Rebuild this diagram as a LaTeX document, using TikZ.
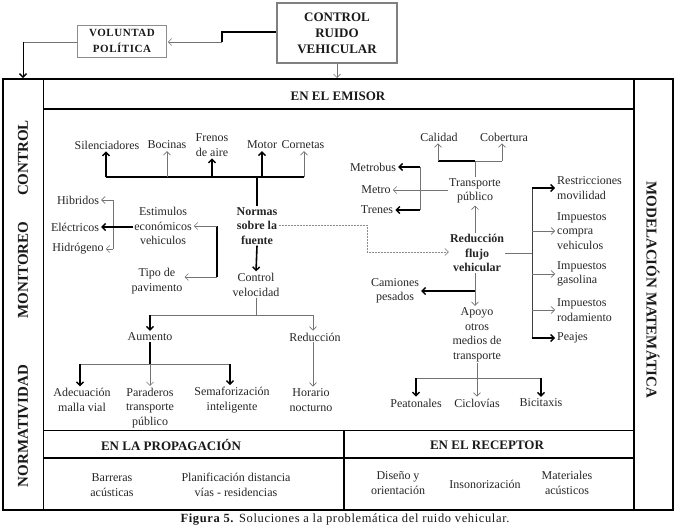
\documentclass[tikz,border=0pt]{standalone}
\usepackage{fontspec}
\setmainfont{Liberation Serif}
\usetikzlibrary{arrows.meta}
\tikzset{
 txt/.style={font=\fontsize{12}{14.5}\selectfont, align=center, inner sep=1pt, text=black!85},
 btxt/.style={txt, font=\fontsize{12}{14.5}\selectfont\bfseries},
 lft/.style={txt, align=left, anchor=west},
 head/.style={font=\fontsize{13}{15}\selectfont\bfseries, text=black!90},
 side/.style={font=\fontsize{15}{17}\selectfont\bfseries, text=black!90},
 thn/.style={draw=black!55, line width=0.6pt},
 thk/.style={draw=black, line width=1.6pt},
 tarr/.style={thn, -{Straight Barb[length=3.5pt,width=7pt,line width=0.6pt]}, shorten >=1pt},
 karr/.style={thk, -{Straight Barb[length=3.5pt,width=7pt,line width=1.4pt]}, shorten >=1pt},
 dotl/.style={draw=black!45, line width=0.6pt, dash pattern=on 2pt off 1pt},
}
\begin{document}
\begin{tikzpicture}[x=1pt,y=-1pt]
\useasboundingbox (0,0) rectangle (676,527);
% top boxes
\node[draw=black!50, line width=1.5pt, minimum width=120pt, minimum height=60pt, align=center,
      font=\fontsize{13}{16}\selectfont\bfseries, text=black!90] (ctrl) at (337,33) {CONTROL\\RUIDO\\VEHICULAR};
\node[draw=black!45, line width=0.6pt, minimum width=89pt, minimum height=32pt, align=center,
      font=\fontsize{11}{16}\selectfont\bfseries\addfontfeature{LetterSpace=5}, text=black!90] (vol) at (122,41) {VOLUNTAD\\POLÍTICA};
\coordinate (k1) at (222,32);
\coordinate (k2) at (222,42);
\coordinate (k3) at (23,42);
\coordinate (k4) at (23,79);
\coordinate (ftop) at (0,79);
\draw[thk, line width=1.2pt] (ctrl.west |- k1) -- (k1) -- (k2);
\draw[tarr] (k2) -- (vol.east |- k2);
\draw[thn] (vol.west |- k3) -- (k3);
\draw[karr, line width=1pt] (k3) -- (k4);
\draw[tarr] (ctrl.south) -- (ctrl.south |- ftop);
% frame
\draw[line width=2pt] (3,79) rectangle (673,510);
\draw[line width=1pt] (43,79) -- (43,510);
\draw[line width=1.5pt] (634,79) -- (634,510);
\draw[line width=1.8pt] (43,109) -- (634,109);
\draw[line width=0.8pt] (43,430) -- (634,430);
\draw[line width=1.6pt] (43,458) -- (634,458);
\draw[line width=1.6pt] (344,430) -- (344,510);
% side labels
\node[side, rotate=90] (lc) at (23,158) {CONTROL};
\node[side, rotate=90] (lm) at (23,270) {MONITOREO};
\node[side, rotate=90] (ln) at (23,426) {NORMATIVIDAD};
\node[side, rotate=-90] (rm) at (653,290) {MODELACIÓN MATEMÁTICA};
% headers
\node[head] (hem) at (338,96) {EN EL EMISOR};
\node[head] (hpr) at (171,445) {EN LA PROPAGACIÓN};
\node[head] (hre) at (487,445) {EN EL RECEPTOR};
% emisor: top row
\node[txt] (silen) at (107,145) {Silenciadores};
\node[txt] (bocin) at (167,145) {Bocinas};
\node[txt] (frenos) at (212,145) {Frenos\\de aire};
\node[txt] (motor) at (262,145) {Motor};
\node[txt] (corne) at (303,145) {Cornetas};
\coordinate (busL) at (106,177);
\coordinate (busR) at (304,177);
\draw[thk] (busL) -- (busR);
\draw[karr] (busL) -- (busL |- silen.south);
\draw[tarr] (bocin.south |- busL) -- (bocin.south);
\draw[karr] (frenos.south |- busL) -- (frenos.south);
\draw[karr] (motor.south |- busL) -- (motor.south);
\draw[tarr] (busR) -- (busR |- corne.south);
% normas
\node[btxt] (normas) at (257,226) {Normas\\sobre la\\fuente};
\draw[thk] (normas.north) -- (normas.north |- busL);
\node[txt] (cv) at (256,285) {Control\\velocidad};
\draw[karr] (normas.south) -- (cv.north);
\node[txt] (aum) at (150,337) {Aumento};
\node[txt] (red) at (315,337) {Reducción};
\coordinate (cvb) at (256,315);
\coordinate (brL) at (150,315);
\coordinate (brR) at (313,315);
\draw[thn] (cv.south) -- (cvb);
\draw[thn] (brL) -- (brR);
\draw[karr] (brL) -- (aum.north);
\draw[tarr] (brR) -- (brR |- red.north);
\node[txt] (adec) at (82,400) {Adecuación\\malla vial};
\node[txt] (parad) at (150,408) {Paraderos\\transporte\\público};
\node[txt] (semaf) at (232,400) {Semaforización\\inteligente};
\node[txt] (horar) at (311,400) {Horario\\nocturno};
\coordinate (ab) at (150,364);
\coordinate (abL) at (80,364);
\coordinate (abR) at (230,364);
\draw[thk] (aum.south) -- (ab);
\draw[thn] (abL) -- (abR);
\draw[karr] (abL) -- (abL |- adec.north);
\draw[tarr] (ab) -- (parad.north);
\draw[karr] (abR) -- (abR |- semaf.north);
\draw[tarr] (red.south -| brR) -- (brR |- horar.north);
% estimulos
\node[txt] (estim) at (163,226) {Estimulos\\económicos\\vehiculos};
\node[txt] (hibr) at (78,200) {Hibridos};
\node[txt] (elec) at (75,227) {Eléctricos};
\node[txt] (hidr) at (78,249) {Hidrógeno};
\coordinate (eb) at (113,227);
\coordinate (ebT) at (113,200);
\coordinate (ebB) at (113,249);
\draw[thn] (ebT) -- (ebB);
\draw[thk] (estim.west |- eb) -- (eb);
\draw[tarr] (ebT) -- (hibr.east |- ebT);
\draw[karr, line width=1.2pt] (eb) -- (elec.east |- eb);
\draw[tarr] (ebB) -- (hidr.east |- ebB);
\node[txt] (tipo) at (157,281) {Tipo de\\pavimento};
\coordinate (tbT) at (217,226);
\coordinate (tbB) at (217,277);
\draw[thk, line width=1.2pt] (tbT) -- (tbB);
\draw[tarr] (tbT) -- (estim.east |- tbT);
\draw[tarr] (tbB) -- (tipo.east |- tbB);
% right side
\node[btxt] (redf) at (477,253) {Reducción\\flujo\\vehicular};
\coordinate (d1) at (367,225);
\coordinate (d2) at (367,252);
\draw[dotl, -{Straight Barb[length=3.5pt,width=7pt,line width=0.6pt]}] (normas.east |- d1) -- (d1) -- (d2) -- (redf.west |- d2);
\node[txt] (transp) at (475,191) {Transporte\\público};
\draw[tarr] (redf.north -| transp) -- (transp.south);
\node[txt] (calid) at (439,137) {Calidad};
\node[txt] (cober) at (504,137) {Cobertura};
\coordinate (cb) at (475,161);
\coordinate (cbL) at (438,161);
\coordinate (cbR) at (502,161);
\draw[thn] (transp.north) -- (cb);
\draw[thk] (cbL) -- (cb);
\draw[thn] (cb) -- (cbR);
\draw[tarr] (cbL) -- (cbL |- calid.south);
\draw[tarr] (cbR) -- (cbR |- cober.south);
\node[txt] (metrob) at (373,167) {Metrobus};
\node[txt] (metro) at (376,190) {Metro};
\node[txt] (trenes) at (377,210) {Trenes};
\coordinate (mbT) at (420,167);
\coordinate (mbB) at (420,210);
\draw[thn] (mbT) -- (mbB);
\draw[karr] (mbT) -- (metrob.east |- mbT);
\draw[karr] (mbB) -- (trenes.east |- mbB);
\draw[tarr] (transp.west |- metro) -- (metro.east);
\node[txt] (camion) at (395,291) {Camiones\\pesados};
\node[txt] (apoyo) at (477,335) {Apoyo\\otros\\medios de\\transporte};
\coordinate (cm) at (475,291);
\draw[thn] (redf.south -| cm) -- (cm);
\draw[tarr] (cm) -- (cm |- apoyo.north);
\draw[karr] (cm) -- (camion.east |- cm);
% right branches
\node[lft] (restr) at (556,188) {Restricciones\\movilidad};
\node[lft] (impc) at (556,231) {Impuestos\\compra\\vehiculos};
\node[lft] (impg) at (556,274) {Impuestos\\gasolina};
\node[lft] (impr) at (556,310) {Impuestos\\rodamiento};
\node[lft] (peaj) at (556,338) {Peajes};
\coordinate (rb) at (532,253);
\coordinate (rbT) at (532,188);
\coordinate (rbB) at (532,338);
\draw[thn] (redf.east |- rb) -- (rb);
\draw[thn, line width=0.9pt, draw=black!75] (rbT) -- (rbB);
\draw[karr] (rbT) -- (restr.west |- rbT);
\draw[tarr] (rb |- impc) -- (impc.west);
\draw[tarr] (rb |- impg) -- (impg.west);
\draw[tarr] (rb |- impr) -- (impr.west);
\draw[karr] (rbB) -- (peaj.west |- rbB);
% apoyo branches
\node[txt] (peat) at (416,403) {Peatonales};
\node[txt] (cicl) at (477,403) {Ciclovías};
\node[txt] (bici) at (541,403) {Bicitaxis};
\coordinate (ap) at (477,378);
\coordinate (apL) at (416,378);
\coordinate (apR) at (541,378);
\draw[thn] (apoyo.south) -- (ap);
\draw[thn] (apL) -- (apR);
\draw[karr, line width=1.1pt] (apL) -- (peat.north);
\draw[tarr] (ap) -- (cicl.north);
\draw[karr] (apR) -- (bici.north);
% bottom
\node[txt] (barr) at (112,485) {Barreras\\acústicas};
\node[txt] (planif) at (236,485) {Planificación distancia\\vías - residencias};
\node[txt] (dise) at (398,483) {Diseño y\\orientación};
\node[txt] (inson) at (485,484) {Insonorización};
\node[txt] (mater) at (567,483) {Materiales\\acústicos};
% caption
\node[font=\fontsize{12.5}{14}\selectfont\addfontfeature{LetterSpace=5}, text=black!90] (cap) at (345,520) {\textbf{Figura 5.} Soluciones a la problemática del ruido vehicular.};
\end{tikzpicture}
\end{document}
